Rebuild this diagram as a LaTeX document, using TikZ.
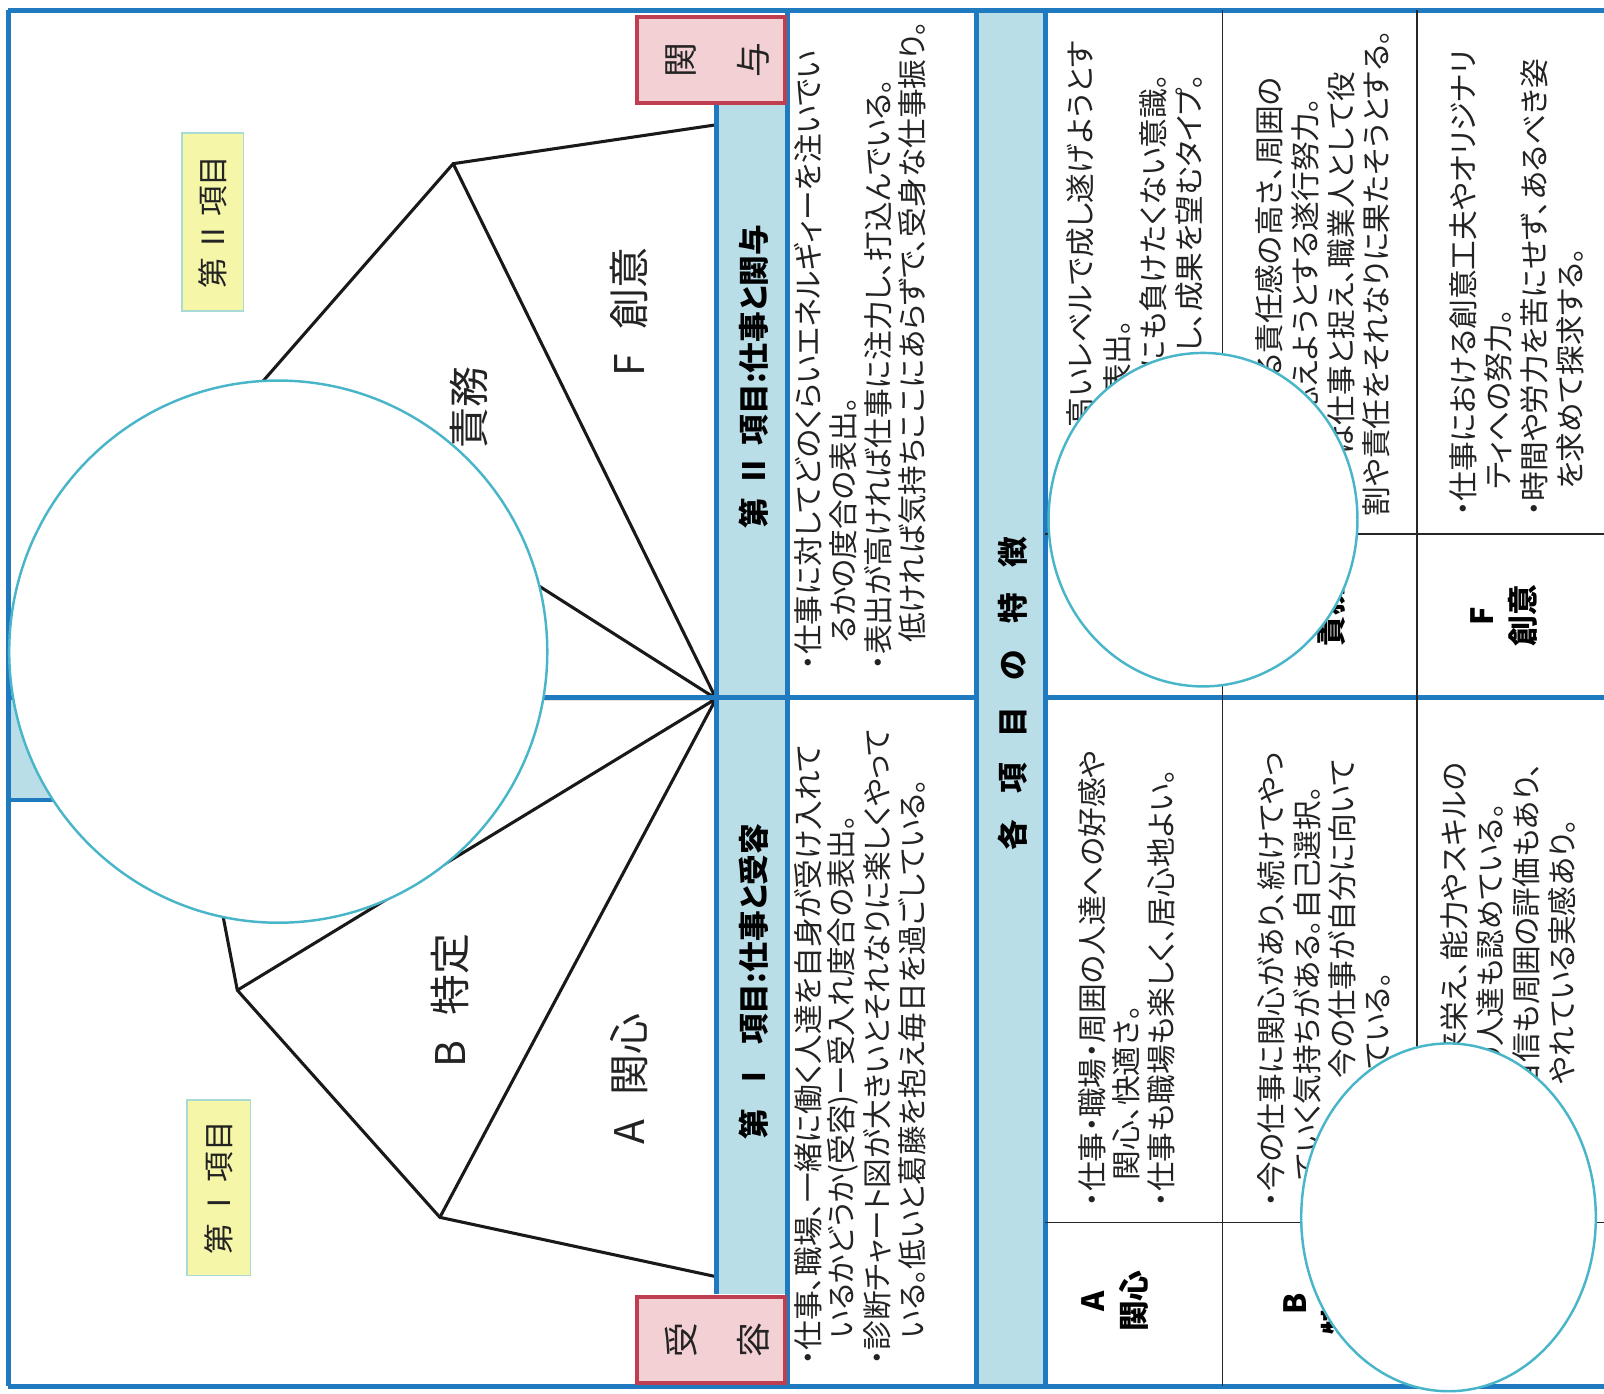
\documentclass[tikz,border=0pt]{standalone}
\usepackage{fontspec}
\setmainfont{Noto Sans CJK JP}[RawFeature=+palt]
\definecolor{frameblue}{RGB}{32,122,192}
\definecolor{barblue}{RGB}{186,222,232}
\definecolor{pinkfill}{RGB}{243,208,212}
\definecolor{pinkdraw}{RGB}{192,62,82}
\definecolor{yelfill}{RGB}{246,246,168}
\definecolor{yeldraw}{RGB}{170,218,212}
\definecolor{circcol}{RGB}{72,182,200}
\definecolor{txt}{RGB}{35,35,35}
\tikzset{
  bl/.style={draw=frameblue, line width=2.4pt},
  thinline/.style={draw=black!85, line width=0.9pt},
  chart/.style={draw=black!90, line width=1.5pt, line join=miter},
  body/.style={rotate=90, inner sep=0pt, text=txt, font=\fontsize{14.5}{17}\selectfont},
  head/.style={rotate=90, inner sep=0pt, text=black, font=\fontsize{15}{18}\selectfont\bfseries},
  lab/.style={rotate=90, inner sep=0pt, text=txt, font=\fontsize{20}{24}\selectfont},
  boxchar/.style={rotate=90, inner sep=0pt, text=txt, font=\fontsize{17}{20}\selectfont},
  pinkbox/.style={fill=pinkfill, draw=pinkdraw, line width=2pt, minimum width=72pt, minimum height=42pt, inner sep=0pt},
  yelbox/.style={rotate=90, fill=yelfill, draw=yeldraw, line width=0.8pt, inner sep=0pt, text=txt, font=\fontsize{15}{18}\selectfont},
  tlabel/.style={rotate=90, inner sep=0pt, align=center, text=black, font=\fontsize{15}{20}\selectfont\bfseries},
  cover/.style={fill=white, draw=circcol, line width=1.2pt},
}
\begin{document}
\begin{tikzpicture}[x=0.5pt,y=-0.5pt]
\useasboundingbox (0,0) rectangle (1568,1362);
\fill[white] (0,0) rectangle (1568,1362);

% light blue bars
\fill[barblue] (700,103) rectangle (770,1265);
\fill[barblue] (955,10) rectangle (1022,1355);
\fill[barblue] (8,682) rectangle (120,782);

% chart
\coordinate (O) at (700,683);
\coordinate (P90) at (700,122);
\coordinate (P120) at (443,160);
\coordinate (P150) at (241,391);
\coordinate (P180) at (177,683);
\coordinate (P210) at (232,968);
\coordinate (P240) at (430,1190);
\coordinate (P270) at (700,1248);
\draw[chart] (P90) -- (P120) -- (P150) -- (P180) -- (P210) -- (P240) -- (P270);
\draw[chart] (O) -- (P120) (O) -- (P150) (O) -- (P180) (O) -- (P210) (O) -- (P240);

% blue frame and rules
\draw[bl] (8,10) -- (1568,10);
\draw[bl] (8,1355) -- (1568,1355);
\draw[bl] (8,10) -- (8,1355);
\draw[bl] (700,103) -- (700,1265);
\draw[bl] (770,10) -- (770,1355);
\draw[bl] (955,10) -- (955,1355);
\draw[bl] (1022,10) -- (1022,1355);
\draw[bl] (8,682) -- (955,682);
\draw[bl] (1022,682) -- (1568,682);
\draw[bl] (8,782) -- (120,782);

% table rules
\draw[thinline] (1195,10) -- (1195,1355);
\draw[thinline] (1385,10) -- (1385,1355);
\draw[thinline] (1022,522) -- (1568,522);
\draw[thinline] (1022,1195) -- (1568,1195);

% pink boxes
\node[pinkbox] (kbox) at (695,59) {};
\node[boxchar] (k1) at (666,59) {関};
\node[boxchar] (k2) at (736,59) {与};
\node[pinkbox] (jbox) at (695,1310) {};
\node[boxchar] (j1) at (666,1310) {受};
\node[boxchar] (j2) at (736,1310) {容};

% yellow boxes
\node[yelbox, minimum width=87pt, minimum height=30pt] (y2) at (208,217) {第\,Ⅱ\,項目};
\node[yelbox, minimum width=86pt, minimum height=31pt] (y1) at (214,1161) {第\,Ⅰ\,項目};

% chart labels
\node[lab] (lf) at (615,305) {F\hspace{0.6em}創意};
\node[lab, anchor=east] (le) at (458,358) {E\hspace{0.6em}責務};
\node[lab] (lb) at (440,978) {B\hspace{0.6em}特定};
\node[lab] (la) at (615,1055) {A\hspace{0.6em}関心};

% headers
\node[head] (h2) at (737,368) {第\hspace{0.35em}Ⅱ\hspace{0.35em}項目:仕事と関与};
\node[head] (h1) at (737,960) {第\hspace{0.55em}Ⅰ\hspace{0.55em}項目:仕事と受容};
\node[head] (kaku) at (990,678) {各\hspace{0.85em}項\hspace{0.85em}目\hspace{0.85em}の\hspace{0.85em}特\hspace{0.85em}徴};

% column II text
\node[body, anchor=west] (c2a) at (790,655) {・仕事に対してどのくらいエネルギィーを注いでい};
\node[body, anchor=west] (c2b) at (824,655) {\hspace*{0.9em}るかの度合の表出。};
\node[body, anchor=west] (c2c) at (858,655) {・表出が高ければ仕事に注力し、打込んでいる。};
\node[body, anchor=west] (c2d) at (892,655) {\hspace*{0.9em}低ければ気持ちここにあらずで、受身な仕事振り。};

% column I text
\node[body, anchor=west] (c1a) at (790,1335) {・仕事、職場、一緒に働く人達を自身が受け入れて};
\node[body, anchor=west] (c1b) at (824,1335) {\hspace*{0.9em}いるかどうか(受容)ー受入れ度合の表出。};
\node[body, anchor=west] (c1c) at (858,1335) {・診断チャート図が大きいとそれなりに楽しくやって};
\node[body, anchor=west] (c1d) at (892,1335) {\hspace*{0.9em}いる。低いと葛藤を抱え毎日を過ごしている。};

% table labels
\node[tlabel] (ta) at (1090,1272) {A\\関心};
\node[tlabel] (tb) at (1288,1275) {B\\特定};
\node[tlabel] (te) at (1283,602) {E\\責務};
\node[tlabel] (tf) at (1470,602) {F\\創意};

% row D (top half)
\node[body, anchor=east] (d1) at (1056,40) {高いレベルで成し遂げようとす};
\node[body, anchor=east] (d2) at (1092,312) {表出。};
\node[body, anchor=east] (d3) at (1127,72) {にも負けたくない意識。};
\node[body, anchor=east] (d4) at (1163,72) {中し、成果を望むタイプ。};
% row E
\node[body, anchor=east] (e1) at (1241,75) {る責任感の高さ、周囲の};
\node[body, anchor=east] (e2) at (1276,95) {応えようとする遂行努力。};
\node[body, anchor=east] (e3) at (1311,70) {は仕事と捉え、職業人として役};
\node[body, anchor=west] (e4) at (1345,505) {割や責任をそれなりに果たそうとする。};
% row F
\node[body, anchor=west] (f1) at (1430,505) {・仕事における創意工夫やオリジナリ};
\node[body, anchor=west] (f2) at (1465,505) {\hspace*{0.9em}ティへの努力。};
\node[body, anchor=west] (f3) at (1500,505) {・時間や労力を苦にせず、あるべき姿};
\node[body, anchor=west] (f4) at (1535,505) {\hspace*{0.9em}を求めて探求する。};

% row A (bottom half)
\node[body, anchor=west] (a1) at (1068,1180) {・仕事・職場・周囲の人達への好感や};
\node[body, anchor=west] (a2) at (1101,1180) {\hspace*{0.9em}関心、快適さ。};
\node[body, anchor=west] (a3) at (1135,1180) {・仕事も職場も楽しく、居心地よい。};
% row B
\node[body, anchor=west] (b1) at (1243,1180) {・今の仕事に関心があり、続けてやっ};
\node[body, anchor=west] (b2) at (1278,1180) {\hspace*{0.9em}ていく気持ちがある。自己選択。};
\node[body, anchor=east] (b3) at (1312,742) {今の仕事が自分に向いて};
\node[body, anchor=east] (b4) at (1347,950) {ている。};
% row C
\node[body, anchor=east] (cc1) at (1422,745) {来栄え、能力やスキルの};
\node[body, anchor=east] (cc2) at (1457,785) {の人達も認めている。};
\node[body, anchor=east] (cc3) at (1492,745) {自信も周囲の評価もあり、};
\node[body, anchor=east] (cc4) at (1527,800) {やれている実感あり。};

% covering circles
\path[cover] (272,637) ellipse [x radius=131.5pt, y radius=132.5pt];
\path[cover] (1176,508) ellipse [x radius=75.5pt, y radius=81.5pt];
\path[cover] (1416,1190) ellipse [x radius=72pt, y radius=85pt];
\end{tikzpicture}
\end{document}
